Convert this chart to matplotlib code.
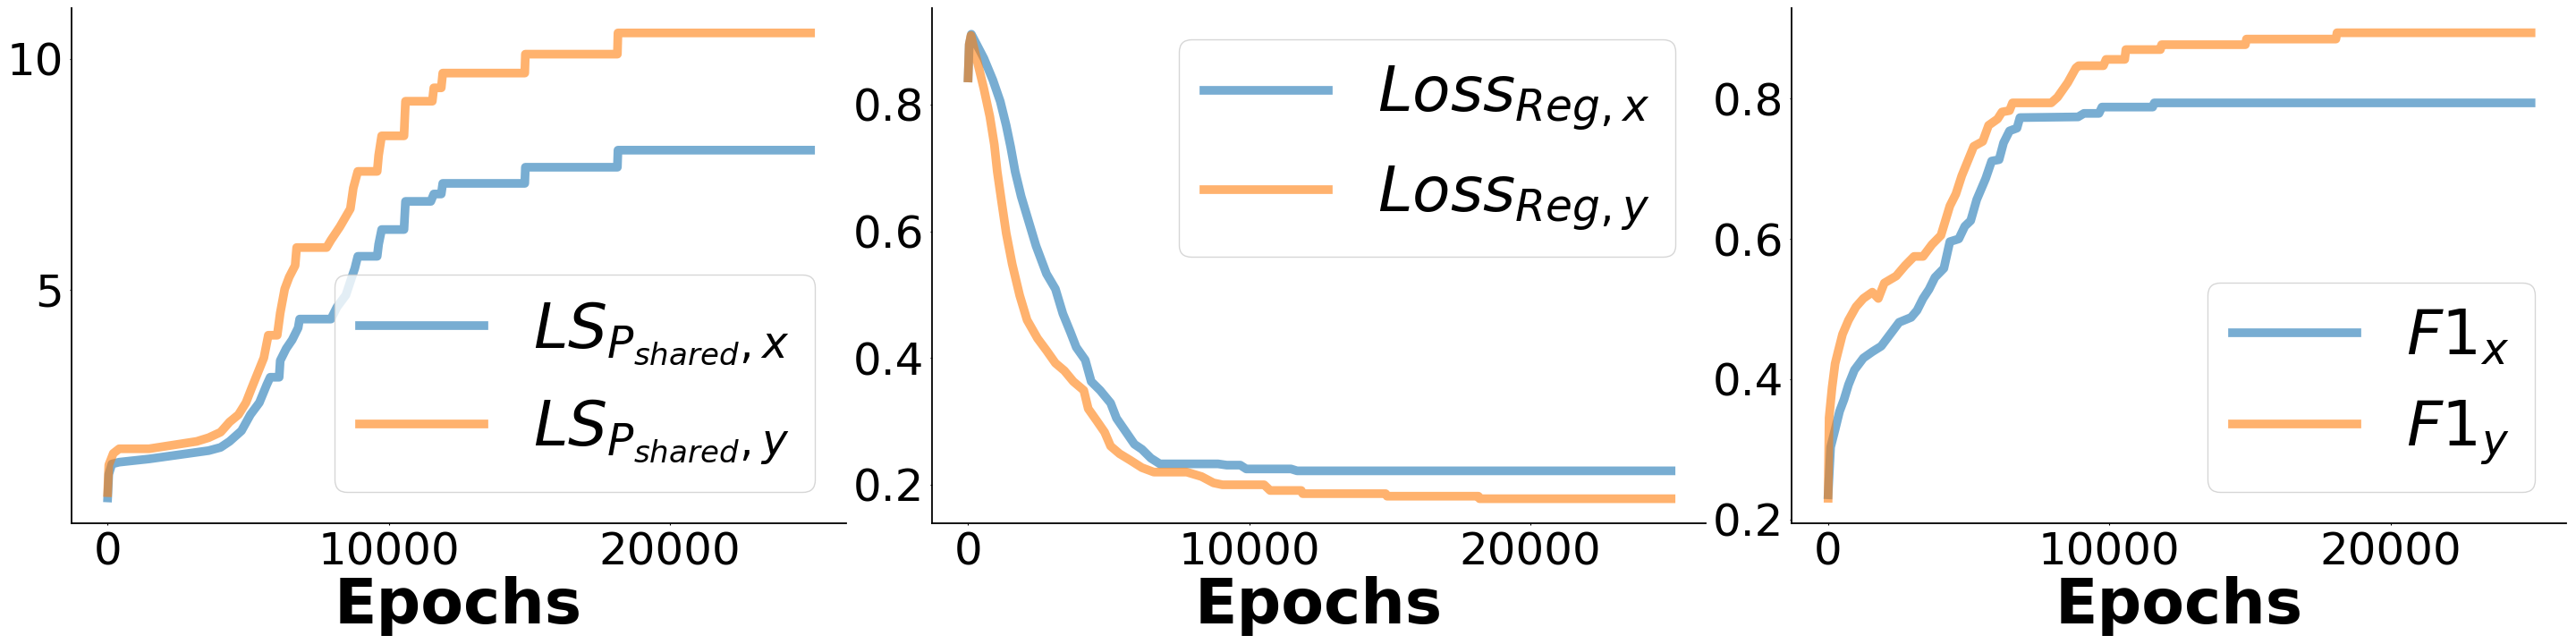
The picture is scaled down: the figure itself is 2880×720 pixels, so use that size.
import matplotlib
matplotlib.use("Agg")
import matplotlib.pyplot as plt

# ---------------- data ----------------
ls_x_epochs = [0, 40, 150, 410, 1473, 2533, 3593, 4018, 4336, 4760, 5078, 5396, 5660, 5780, 6100, 6137,
               6350, 6563, 6775, 6828, 7941, 8155, 8473, 8685, 8791, 8897, 9586, 9638, 9745, 10540, 10593,
               11494, 11600, 11865, 11918, 14836, 14857, 18130, 18150, 25000]
ls_x_vals = [0.485, 1.0, 1.22, 1.26, 1.33, 1.42, 1.51, 1.58, 1.71, 1.94, 2.29, 2.55, 2.94, 3.1, 3.1, 3.46,
             3.72, 3.91, 4.17, 4.36, 4.36, 4.62, 4.88, 5.27, 5.46, 5.72, 5.72, 5.98, 6.3, 6.3, 6.91,
             6.91, 7.07, 7.07, 7.3, 7.3, 7.65, 7.65, 8.02, 8.02]

ls_y_epochs = [0, 40, 200, 410, 1473, 2533, 3169, 3593, 4018, 4336, 4654, 4919, 5131, 5343, 5555, 5714,
               6031, 6137, 6296, 6456, 6668, 6722, 7786, 7941, 8260, 8632, 8737, 8896, 9586, 9638, 9745,
               10540, 10593, 11547, 11600, 11865, 11918, 14836, 14857, 18130, 18150, 25000]
ls_y_vals = [0.6, 1.2, 1.45, 1.55, 1.55, 1.65, 1.71, 1.79, 1.91, 2.13, 2.29, 2.55, 2.88, 3.2, 3.52, 4.01,
             4.01, 4.49, 5.01, 5.27, 5.52, 5.91, 5.91, 6.07, 6.36, 6.75, 7.2, 7.56, 7.56, 7.91, 8.33,
             8.33, 9.08, 9.08, 9.37, 9.37, 9.69, 9.69, 10.1, 10.1, 10.56, 10.56]

loss_x_epochs = [0, 40, 115, 560, 878, 1143, 1355, 1514, 1674, 1887, 2151, 2415, 2787, 3105, 3370, 3637,
                 3847, 4165, 4378, 4696, 5068, 5278, 5651, 5915, 6182, 6500, 6818, 8887, 9200, 9682, 9892,
                 11485, 11700, 25000]
loss_x_vals = [0.842, 0.895, 0.911, 0.873, 0.839, 0.805, 0.767, 0.733, 0.694, 0.655, 0.616, 0.577, 0.533,
               0.509, 0.47, 0.441, 0.417, 0.397, 0.363, 0.349, 0.329, 0.305, 0.281, 0.264, 0.256, 0.242,
               0.233, 0.233, 0.231, 0.231, 0.225, 0.225, 0.222, 0.222]

loss_y_epochs = [0, 40, 100, 347, 560, 773, 932, 1037, 1196, 1355, 1569, 1833, 2097, 2469, 2787, 3105, 3424,
                 3742, 4114, 4273, 4591, 4855, 5068, 5386, 5756, 6182, 6605, 7773, 8301, 8727, 9045, 10528,
                 10741, 11850, 11900, 14850, 14900, 18150, 18190, 25000]
loss_y_vals = [0.842, 0.895, 0.909, 0.864, 0.825, 0.781, 0.737, 0.694, 0.645, 0.597, 0.548, 0.499, 0.46,
               0.431, 0.412, 0.392, 0.38, 0.363, 0.349, 0.32, 0.3, 0.283, 0.261, 0.249, 0.239, 0.227, 0.22,
               0.22, 0.213, 0.203, 0.2, 0.2, 0.191, 0.191, 0.186, 0.186, 0.182, 0.182, 0.178, 0.178]

f1_x_epochs = [0, 89, 248, 407, 566, 725, 936, 1254, 1572, 1890, 2208, 2526, 2952, 3163, 3376, 3589, 3799,
               4117, 4330, 4648, 4862, 5071, 5285, 5603, 5816, 6080, 6240, 6452, 6717, 6822, 8890, 9100,
               9634, 9739, 11545, 11600, 25000]
f1_x_vals = [0.235, 0.303, 0.328, 0.354, 0.371, 0.392, 0.413, 0.43, 0.439, 0.447, 0.464, 0.481, 0.488,
             0.498, 0.515, 0.528, 0.545, 0.558, 0.596, 0.6, 0.618, 0.626, 0.656, 0.686, 0.711, 0.713,
             0.737, 0.754, 0.758, 0.773, 0.774, 0.779, 0.779, 0.788, 0.788, 0.794, 0.794]

f1_y_epochs = [0, 35, 140, 248, 353, 512, 725, 990, 1254, 1572, 1785, 1998, 2421, 2739, 3058, 3376, 3694,
               4012, 4171, 4330, 4543, 4753, 4967, 5180, 5498, 5708, 6026, 6185, 6452, 6558, 7935, 8158,
               8525, 8815, 8910, 9790, 9885, 10550, 10590, 11820, 11860, 14840, 14880, 18060, 18100, 25000]
f1_y_vals = [0.23, 0.345, 0.388, 0.422, 0.439, 0.464, 0.484, 0.503, 0.515, 0.524, 0.515, 0.537, 0.547,
             0.562, 0.575, 0.575, 0.592, 0.605, 0.626, 0.647, 0.664, 0.69, 0.711, 0.732, 0.739, 0.762,
             0.771, 0.781, 0.783, 0.794, 0.794, 0.802, 0.823, 0.844, 0.847, 0.847, 0.856, 0.856, 0.87,
             0.87, 0.877, 0.877, 0.885, 0.885, 0.894, 0.894]

x_ticks = [0, 10000, 20000]
ls_yticks = [5, 10]
frac_yticks = [0.2, 0.4, 0.6, 0.8]

labels_ls = [r"$LS_{P_{shared},x}$", r"$LS_{P_{shared},y}$"]
labels_loss = [r"$Loss_{Reg,x}$", r"$Loss_{Reg,y}$"]
labels_f1 = [r"$F1_x$", r"$F1_y$"]
xlabel = "Epochs"

# ---------------- figure ----------------
plt.rcParams['font.family'] = ['DejaVu Sans']
fig = plt.figure(figsize=(28.8, 7.2), dpi=100)
W, H = 2880.0, 720.0
AX_TOP, AX_BOTTOM, AX_W = 9.2, 584.5, 866.0

panels = [
    dict(left=79.5, ex=ls_x_epochs, vx=ls_x_vals, ey=ls_y_epochs, vy=ls_y_vals, labels=labels_ls,
         ylim=(-0.054, 11.095), yticks=ls_yticks, loc="lower right"),
    dict(left=1041.5, ex=loss_x_epochs, vx=loss_x_vals, ey=loss_y_epochs, vy=loss_y_vals, labels=labels_loss,
         ylim=(0.14, 0.952), yticks=frac_yticks, loc="upper right"),
    dict(left=2003, ex=f1_x_epochs, vx=f1_x_vals, ey=f1_y_epochs, vy=f1_y_vals, labels=labels_f1,
         ylim=(0.195, 0.929), yticks=frac_yticks, loc="lower right"),
]

for p in panels:
    ax = fig.add_axes([p["left"] / W, (H - AX_BOTTOM) / H, AX_W / W, (AX_BOTTOM - AX_TOP) / H])
    ax.plot(p["ex"], p["vx"], color="tab:blue", alpha=0.6, lw=7, label=p["labels"][0])
    ax.plot(p["ey"], p["vy"], color="tab:orange", alpha=0.6, lw=7, label=p["labels"][1])
    ax.set_xlim(-1300, 26250)
    ax.set_ylim(*p["ylim"])
    ax.set_xticks(x_ticks)
    ax.set_yticks(p["yticks"])
    ax.tick_params(labelsize=36, length=1.5, width=0.8, pad=4.7)
    for s in ("top", "right"):
        ax.spines[s].set_visible(False)
    for s in ("left", "bottom"):
        ax.spines[s].set_linewidth(1.3)
    ax.set_xlabel(xlabel, fontsize=50, fontweight="bold", labelpad=2)
    ax.legend(loc=p["loc"], fontsize=50)

fig.savefig("out.png", dpi=100)
